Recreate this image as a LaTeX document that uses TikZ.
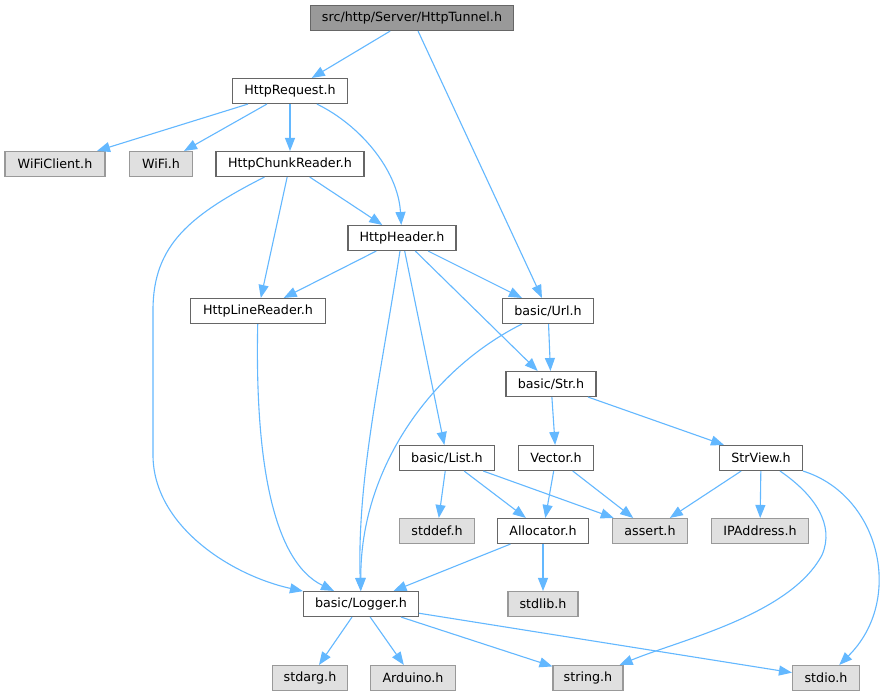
\documentclass[tikz,border=0pt]{standalone}
\usepackage{fontspec}
\setmainfont{DejaVu Sans}
\usetikzlibrary{arrows.meta}
\definecolor{edgeblue}{HTML}{63B8FF}
\definecolor{boxline}{HTML}{666666}
\definecolor{extline}{HTML}{999999}
\definecolor{extfill}{HTML}{E0E0E0}
\definecolor{rootfill}{HTML}{999999}
\tikzset{
    hdr/.style={draw=boxline, fill=white, line width=1.1pt, minimum height=25pt, inner sep=0pt, font=\fontsize{12.7}{15}\selectfont},
    roothdr/.style={hdr, fill=rootfill},
    syshdr/.style={hdr, draw=extline, fill=extfill},
    incl/.style={draw=edgeblue, line width=1.1pt, -{Triangle[length=13pt,width=10pt]}}
}
\begin{document}
\begin{tikzpicture}[x=1pt, y=-1pt]
    \fill [white] (0,0) rectangle (885,696);
    \useasboundingbox (0,0) rectangle (885,696);
    \node [roothdr, minimum width=203pt] (tunnel) at (412,18) {src/http/Server/HttpTunnel.h};
    \node [hdr, minimum width=115pt] (request) at (290,91) {HttpRequest.h};
    \node [syshdr, minimum width=100pt] (wificlient) at (55,164) {WiFiClient.h};
    \node [syshdr, minimum width=63pt] (wifi) at (161,164) {WiFi.h};
    \node [hdr, minimum width=148pt] (chunk) at (290,164) {HttpChunkReader.h};
    \node [hdr, minimum width=108pt] (header) at (402,238) {HttpHeader.h};
    \node [hdr, minimum width=135pt] (line) at (258,311) {HttpLineReader.h};
    \node [hdr, minimum width=91pt] (url) at (548,311) {basic/Url.h};
    \node [hdr, minimum width=90pt] (str) at (551,384) {basic/Str.h};
    \node [hdr, minimum width=95pt] (list) at (447,458) {basic/List.h};
    \node [hdr, minimum width=75pt] (vector) at (556,458) {Vector.h};
    \node [hdr, minimum width=83pt] (strview) at (761,458) {StrView.h};
    \node [syshdr, minimum width=75pt] (stddef) at (437,531) {stddef.h};
    \node [hdr, minimum width=91pt] (alloc) at (543,531) {Allocator.h};
    \node [syshdr, minimum width=75pt] (assert) at (650,531) {assert.h};
    \node [syshdr, minimum width=97pt] (ipaddr) at (760,531) {IPAddress.h};
    \node [hdr, minimum width=115pt] (logger) at (361,604) {basic/Logger.h};
    \node [syshdr, minimum width=70pt] (stdlib) at (543,604) {stdlib.h};
    \node [syshdr, minimum width=75pt] (stdarg) at (310,678) {stdarg.h};
    \node [syshdr, minimum width=85pt] (arduino) at (413,678) {Arduino.h};
    \node [syshdr, minimum width=70pt] (string) at (588,678) {string.h};
    \node [syshdr, minimum width=67pt] (stdio) at (826,678) {stdio.h};

    \draw [incl] (tunnel) -- (request);
    \draw [incl] (tunnel) -- (url);
    \draw [incl] (request) -- (wificlient);
    \draw [incl] (request) -- (wifi);
    \draw [incl] (request) -- (chunk);
    \draw [incl] (request) .. controls (360,125) and (398,170) .. (header);
    \draw [incl] (chunk) -- (line);
    \draw [incl] (chunk) -- (header);
    \draw [incl] (chunk) .. controls (190,215) and (153,245) .. (153,310) -- (153,455) .. controls (153,525) and (230,575) .. (logger);
    \draw [incl] (header) -- (line);
    \draw [incl] (header) -- (url);
    \draw [incl] (header) -- (str);
    \draw [incl] (header) -- (list);
    \draw [incl] (header) .. controls (380,380) and (357,480) .. (logger);
    \draw [incl] (line) .. controls (255,450) and (270,560) .. (logger);
    \draw [incl] (url) -- (str);
    \draw [incl] (url) .. controls (430,370) and (360,470) .. (logger);
    \draw [incl] (str) -- (vector);
    \draw [incl] (str) -- (strview);
    \draw [incl] (list) -- (stddef);
    \draw [incl] (list) -- (alloc);
    \draw [incl] (list) -- (assert);
    \draw [incl] (vector) -- (alloc);
    \draw [incl] (vector) -- (assert);
    \draw [incl] (strview) -- (assert);
    \draw [incl] (strview) -- (ipaddr);
    \draw [incl] (strview) .. controls (815,495) and (835,525) .. (822,555) .. controls (790,615) and (680,640) .. (string);
    \draw [incl] (strview) .. controls (880,495) and (905,600) .. (stdio);
    \draw [incl] (alloc) -- (logger);
    \draw [incl] (alloc) -- (stdlib);
    \draw [incl] (logger) -- (stdarg);
    \draw [incl] (logger) -- (arduino);
    \draw [incl] (logger) -- (string);
    \draw [incl] (logger) -- (stdio);
\end{tikzpicture}
\end{document}
